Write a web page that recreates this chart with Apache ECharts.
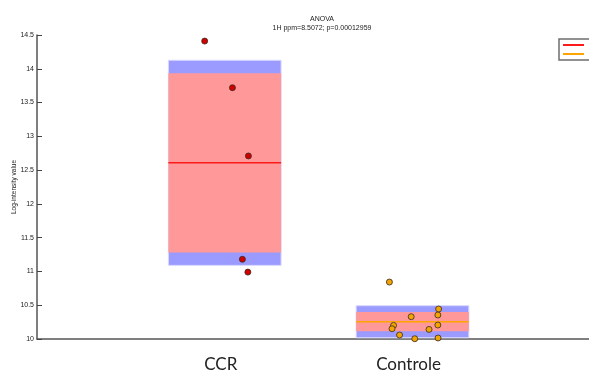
<!DOCTYPE html>
<html>
<head>
<meta charset="utf-8">
<script src="https://cdn.jsdelivr.net/npm/echarts@6/dist/echarts.min.js"></script>
<style>
  html, body { margin: 0; padding: 0; background: #fff; }
  #chart { width: 589px; height: 376px; }
</style>
</head>
<body>
<div id="chart"></div>
<script>
// Groups and their positions on the x axis
const groupNames = ['CCR', 'Controle'];
const groupPos = [1, 2];

// Summary per group: mean, 95% CI half-width, SD half-width
const groupMean = [12.608, 10.256];
const groupCI = [1.327, 0.143];
const groupSD = [1.518, 0.237];

// Individual samples (jittered x position, log-intensity)
const ccrX = [0.893, 1.041, 1.126, 1.094, 1.123];
const ccrY = [14.41, 13.72, 12.71, 11.18, 10.99];
const ctlX = [1.877, 2.139, 2.135, 1.993, 2.135, 1.899, 1.891, 2.088, 1.931, 2.012, 2.136];
const ctlY = [10.843, 10.444, 10.355, 10.330, 10.207, 10.201, 10.152, 10.142, 10.059, 10.004, 10.015];

// Y axis ticks
const yMin = 10, yMax = 14.5, yStep = 0.5;

const boxHalfWidth = 0.3;
const lineColors = ['#ff1a1a', '#ffa500'];
const dotColors = ['#d00000', '#f2a400'];

const boxData = groupPos.map((x, i) => [x, groupMean[i], groupCI[i], groupSD[i]]);

function renderBox(params, api) {
  const x = api.value(0), m = api.value(1), ci = api.value(2), sd = api.value(3);
  const p1 = api.coord([x - boxHalfWidth, m + sd]);
  const p2 = api.coord([x + boxHalfWidth, m - sd]);
  const q1 = api.coord([x - boxHalfWidth, m + ci]);
  const q2 = api.coord([x + boxHalfWidth, m - ci]);
  return {
    type: 'group',
    children: [
      { type: 'rect', shape: { x: p1[0], y: p1[1], width: p2[0] - p1[0], height: p2[1] - p1[1] },
        style: { fill: '#9a9aff', stroke: '#d8d8ff', lineWidth: 1 } },
      { type: 'rect', shape: { x: q1[0], y: q1[1], width: q2[0] - q1[0], height: q2[1] - q1[1] },
        style: { fill: '#ff9999' } }
    ]
  };
}

const meanSeries = groupNames.map((name, i) => ({
  name: name,
  type: 'line',
  data: [[groupPos[i] - boxHalfWidth, groupMean[i]], [groupPos[i] + boxHalfWidth, groupMean[i]]],
  showSymbol: false,
  symbol: 'none',
  color: lineColors[i],
  lineStyle: { color: lineColors[i], width: 1.5 },
  z: 3,
  silent: true
}));

const dotSeries = [[ccrX, ccrY], [ctlX, ctlY]].map((d, i) => ({
  type: 'scatter',
  data: d[0].map((x, k) => [x, d[1][k]]),
  symbolSize: 6,
  itemStyle: { color: dotColors[i], borderColor: '#3a2a20', borderWidth: 0.8, opacity: 1 },
  z: 4
}));

const chart = echarts.init(document.getElementById('chart'), null, { renderer: 'canvas' });
chart.setOption({
  animation: false,
  backgroundColor: '#ffffff',
  title: {
    text: 'ANOVA\n1H ppm=8.5072; p=0.00012959',
    left: 317,
    textAlign: 'center',
    top: 10,
    textStyle: { fontFamily: 'Liberation Sans', fontSize: 7, fontWeight: 'normal', color: '#222', lineHeight: 9 }
  },
  legend: {
    orient: 'vertical',
    left: 559,
    top: 39,
    data: groupNames,
    icon: 'rect',
    itemWidth: 21,
    itemHeight: 2,
    itemGap: 3,
    padding: [3, 3, 3, 4],
    borderColor: '#6e6e6e',
    borderWidth: 1.5,
    backgroundColor: '#fff',
    textStyle: { fontFamily: 'Liberation Sans', fontSize: 6, color: '#222' }
  },
  grid: { left: 37, top: 35, right: 0, height: 304, containLabel: false, outerBoundsMode: 'none' },
  xAxis: {
    type: 'value',
    min: 0, max: 2.94,
    interval: 1,
    splitLine: { show: false },
    axisTick: { show: false },
    axisLine: { lineStyle: { color: '#555', width: 1.5 } },
    axisLabel: {
      margin: 17,
      fontFamily: 'Lato',
      fontSize: 17,
      color: '#222',
      padding: [0, 8, 0, 0],
      showMaxLabel: false,
      formatter: v => { const i = groupPos.indexOf(v); return i >= 0 ? groupNames[i] : ''; }
    }
  },
  yAxis: {
    type: 'value',
    min: yMin, max: yMax, interval: yStep,
    name: 'Log-intensity value',
    nameLocation: 'middle',
    nameGap: 19,
    nameMoveOverlap: false,
    nameTextStyle: { fontFamily: 'Liberation Sans', fontSize: 6.5, color: '#222' },
    splitLine: { show: false },
    axisLine: { show: true, lineStyle: { color: '#555', width: 1.5 } },
    axisTick: { show: true, inside: true, length: 5, lineStyle: { color: '#444', width: 1 } },
    axisLabel: { fontFamily: 'Liberation Sans', fontSize: 7, color: '#222', margin: 3 }
  },
  series: [
    { type: 'custom', renderItem: renderBox, data: boxData, z: 1, silent: true,
      encode: { x: 0, y: 1 } }
  ].concat(meanSeries, dotSeries)
});
</script>
</body>
</html>
